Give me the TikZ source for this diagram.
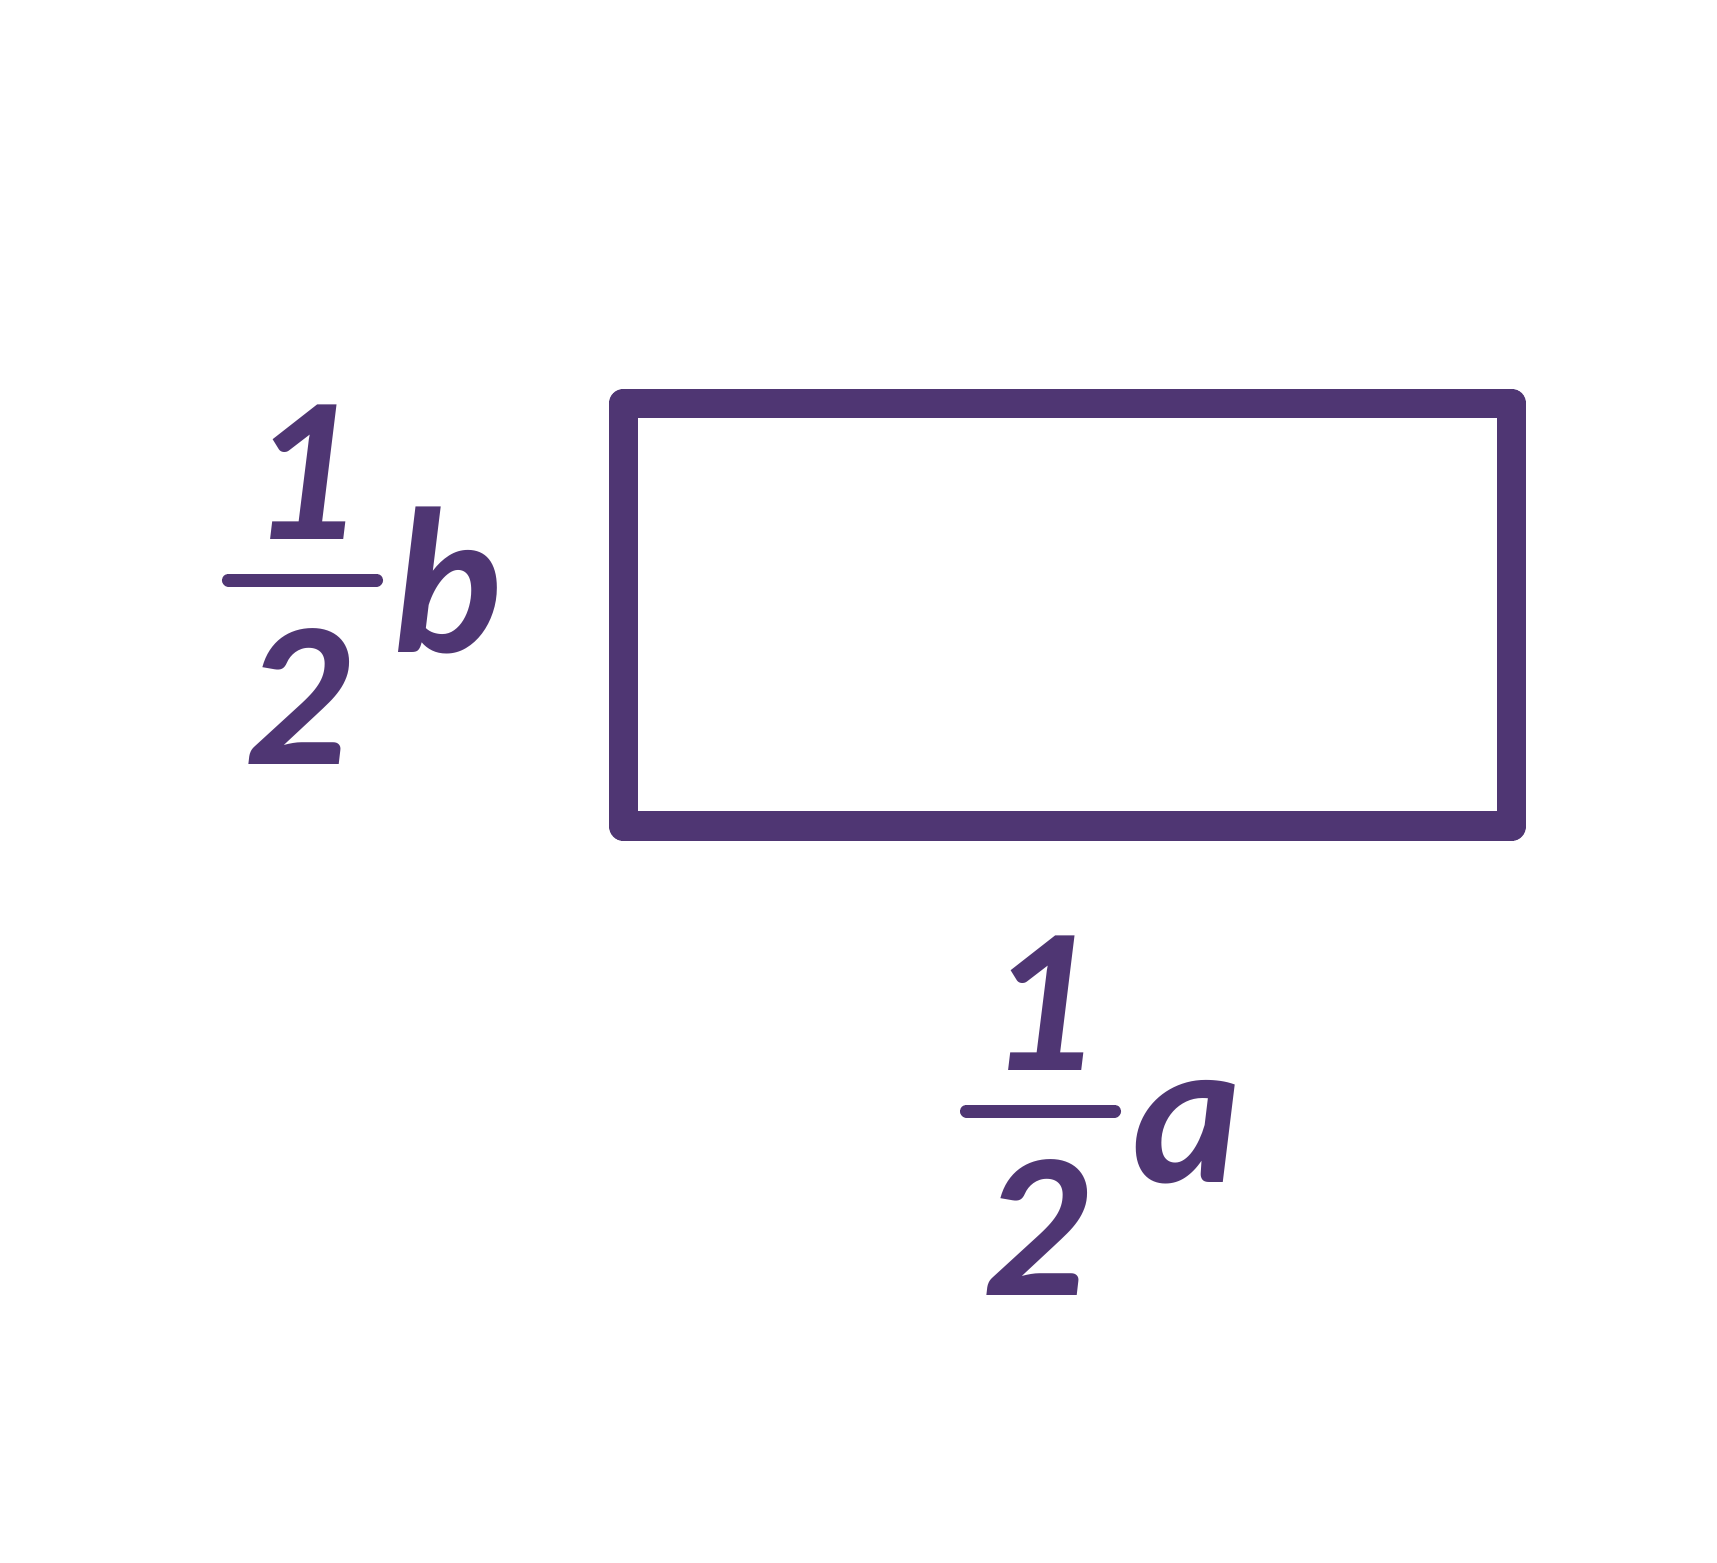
\documentclass[tikz,border=0pt]{standalone}
\usepackage{fontspec}
\setmainfont{Carlito}
\usetikzlibrary{positioning}

\definecolor{plum}{RGB}{79,54,115}

\begin{document}
\begin{tikzpicture}[
    x=0.01cm, y=-0.01cm,
    plum,
    label/.style = {font=\fontsize{59}{60}\selectfont\bfseries\itshape, inner sep=0pt,
                    anchor=base, text=plum},
    bar/.style   = {line width=0.13cm, line cap=round},
    frame/.style = {line width=0.296cm, line join=round}
]
\useasboundingbox (0,0) rectangle (1717,1563);

%% -- Rectangle ---------------------------------------------------------------
\draw[frame] (623.6,403.5) rectangle (1511.6,826.2);

%% -- Left label: 1/2 b -------------------------------------------------------
\node[label] (numb) at (302,539) {1};
\node[label] (denb) at (297,764) {2};
\node[label, anchor=base west] (varb) at (392,652) {b};
\draw[bar] (228.5,580) -- (376.5,580);

%% -- Bottom label: 1/2 a -----------------------------------------------------
\node[label] (numa) at (1040,1070) {1};
\node[label] (dena) at (1035,1295) {2};
\node[label, anchor=base west] (vara) at (1132,1182) {a};
\draw[bar] (966.5,1111) -- (1114.5,1111);

\end{tikzpicture}
\end{document}
